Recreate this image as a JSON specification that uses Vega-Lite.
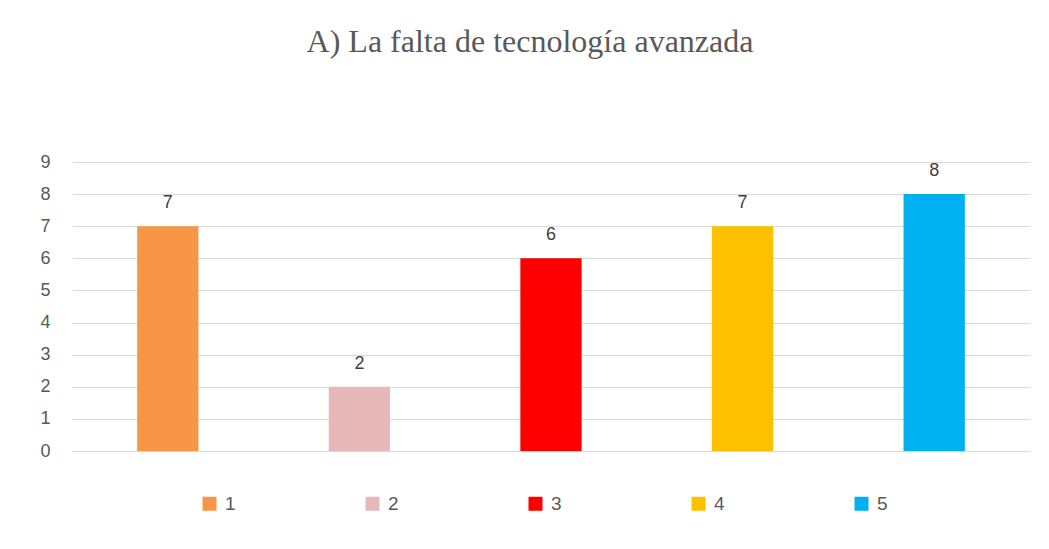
{
  "$schema": "https://vega.github.io/schema/vega-lite/v6.json",
  "width": 958,
  "height": 289,
  "autosize": {"type": "none"},
  "padding": {"left": 72, "top": 162, "right": 19, "bottom": 98},
  "background": "white",
  "title": {
    "text": "A) La falta de tecnología avanzada",
    "font": "Liberation Serif",
    "fontSize": 32,
    "fontWeight": "normal",
    "color": "#595959",
    "offset": 94,
    "dx": -21,
    "anchor": "middle"
  },
  "config": {"view": {"stroke": null}},
  "data": {
    "values": [
      {"categoria": "1", "valor": 7},
      {"categoria": "2", "valor": 2},
      {"categoria": "3", "valor": 6},
      {"categoria": "4", "valor": 7},
      {"categoria": "5", "valor": 8}
    ]
  },
  "encoding": {
    "x": {
      "field": "categoria",
      "type": "nominal",
      "scale": {"paddingInner": 0.68, "paddingOuter": 0.34},
      "axis": null
    },
    "y": {
      "field": "valor",
      "type": "quantitative",
      "scale": {"domain": [0, 9], "nice": false},
      "axis": {
        "title": null,
        "values": [0, 1, 2, 3, 4, 5, 6, 7, 8, 9],
        "grid": true,
        "gridColor": "#D9D9D9",
        "gridWidth": 1,
        "domain": false,
        "ticks": false,
        "labelPadding": 22,
        "labelFont": "Liberation Sans",
        "labelFontSize": 18,
        "labelColor": "#595959"
      }
    }
  },
  "layer": [
    {
      "mark": {"type": "bar"},
      "encoding": {
        "color": {
          "field": "categoria",
          "type": "nominal",
          "scale": {
            "domain": ["1", "2", "3", "4", "5"],
            "range": ["#F79646", "#E6B9B8", "#FF0000", "#FFC000", "#00B0F0"]
          },
          "legend": {
            "title": null,
            "orient": "none",
            "legendX": 128,
            "legendY": 332,
            "direction": "horizontal",
            "symbolType": "square",
            "symbolSize": 196,
            "symbolStrokeWidth": 0,
            "labelFont": "Liberation Sans",
            "labelFontSize": 19,
            "labelColor": "#595959",
            "labelOffset": 6,
            "columnPadding": 127
          }
        }
      }
    },
    {
      "mark": {
        "type": "text",
        "dy": -18,
        "baseline": "alphabetic",
        "font": "Liberation Sans",
        "fontSize": 18,
        "color": "#404040"
      },
      "encoding": {"text": {"field": "valor", "type": "quantitative"}}
    }
  ]
}
